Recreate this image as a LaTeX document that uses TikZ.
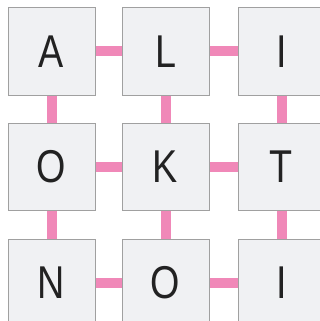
\documentclass[tikz,border=0pt]{standalone}
\usepackage{fontspec}
\setmainfont[FakeStretch=0.82]{Liberation Sans}
\definecolor{linkpink}{HTML}{F088B8}
\definecolor{boxfill}{HTML}{F0F1F3}
\definecolor{boxline}{HTML}{A0A0A0}
\definecolor{letter}{HTML}{222222}
\begin{document}
\begin{tikzpicture}[x=1pt,y=-1pt,
  cell/.style={draw=boxline,line width=1pt,fill=boxfill,minimum width=87pt,minimum height=87pt,inner sep=0pt,
    font=\fontsize{46}{46}\selectfont,text=letter},
  link/.style={draw=linkpink,line width=10pt}]
\useasboundingbox (0,0) rectangle (320,321);
\clip (0,0) rectangle (320,321);
\node[cell] (a) at (51.5,51.5) {A};
\node[cell] (l) at (165.5,51.5) {L};
\node[cell] (i1) at (281.5,51.5) {I};
\node[cell] (o1) at (51.5,166.5) {O};
\node[cell] (k) at (165.5,166.5) {K};
\node[cell] (t) at (281.5,166.5) {T};
\node[cell] (n) at (51.5,282.5) {N};
\node[cell] (o2) at (165.5,282.5) {O};
\node[cell] (i2) at (281.5,282.5) {I};
\path[link] (a) -- (l) (l) -- (i1) (o1) -- (k) (k) -- (t) (n) -- (o2) (o2) -- (i2)
  (a) -- (o1) (o1) -- (n) (l) -- (k) (k) -- (o2) (i1) -- (t) (t) -- (i2);
\end{tikzpicture}
\end{document}
